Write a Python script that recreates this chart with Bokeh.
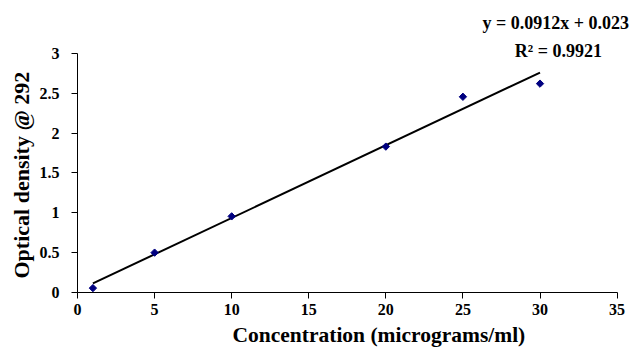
import numpy as np
from bokeh.plotting import figure
from bokeh.models import Range1d, Label, SingleIntervalTicker, Title
from bokeh.embed import file_html
from bokeh.resources import INLINE

# Data
concentration = [1, 5, 10, 20, 25, 30]
optical_density = [0.055, 0.50, 0.955, 1.83, 2.455, 2.62]

# Trendline parameters (as displayed)
slope = 0.0912
intercept = 0.023
r_squared = 0.9921

x_title = "Concentration (micrograms/ml)"
y_title = "Optical density @ 292"

FONT = "Liberation Serif"

p = figure(width=634, height=352, output_backend="svg", toolbar_location=None,
           x_range=Range1d(0, 36), y_range=Range1d(0, 3.6),
           min_border_left=77, min_border_right=2, min_border_top=5, min_border_bottom=60)
p.outline_line_color = None
p.xgrid.visible = False
p.ygrid.visible = False
p.background_fill_color = "white"
p.border_fill_color = "white"

# trend line from the fitted equation
tx = np.array([min(concentration), max(concentration)], dtype=float)
ty = slope * tx + intercept
p.line(tx, ty, line_color="black", line_width=2)

p.scatter(concentration, optical_density, marker="square", angle=np.pi / 4,
          size=5.2, fill_color="#000080", line_color="#000080")

p.xaxis.ticker = SingleIntervalTicker(interval=5)
p.yaxis.ticker = SingleIntervalTicker(interval=0.5)
p.xaxis.bounds = (0, 35)
p.yaxis.bounds = (0, 3)
for ax in (p.xaxis[0], p.yaxis[0]):
    ax.axis_line_color = "black"
    ax.axis_line_width = 1
    ax.major_tick_line_color = "black"
    ax.major_tick_in = 0
    ax.major_tick_out = 6
    ax.minor_tick_line_color = None
    ax.major_label_text_font = FONT
    ax.major_label_text_font_style = "bold"
    ax.major_label_text_font_size = "16px"
    ax.major_label_text_color = "black"
p.xaxis.major_label_standoff = 5
p.yaxis.major_label_standoff = 12

# axis titles (placed like the original, which is offset from the plot centre)
p.add_layout(Title(text=x_title, align="left", offset=155, standoff=6,
                   text_font=FONT, text_font_style="bold", text_font_size="21.5px",
                   text_color="black"), "below")
p.add_layout(Title(text=y_title, align="left", offset=14, standoff=5,
                   text_font=FONT, text_font_style="bold", text_font_size="22px",
                   text_color="black"), "left")

eq_text = f"y = {slope}x + {intercept}"
r2_text = f"R\u00b2 = {r_squared}"
p.add_layout(Label(x=31.02, y=3.385, text=eq_text, text_align="center", text_baseline="alphabetic",
                   text_font=FONT, text_font_style="bold", text_font_size="18px", text_color="black"))
p.add_layout(Label(x=31.19, y=3.03, text=r2_text, text_align="center", text_baseline="alphabetic",
                   text_font=FONT, text_font_style="bold", text_font_size="18px", text_color="black"))

open("out.html", "w").write(file_html(p, INLINE))
